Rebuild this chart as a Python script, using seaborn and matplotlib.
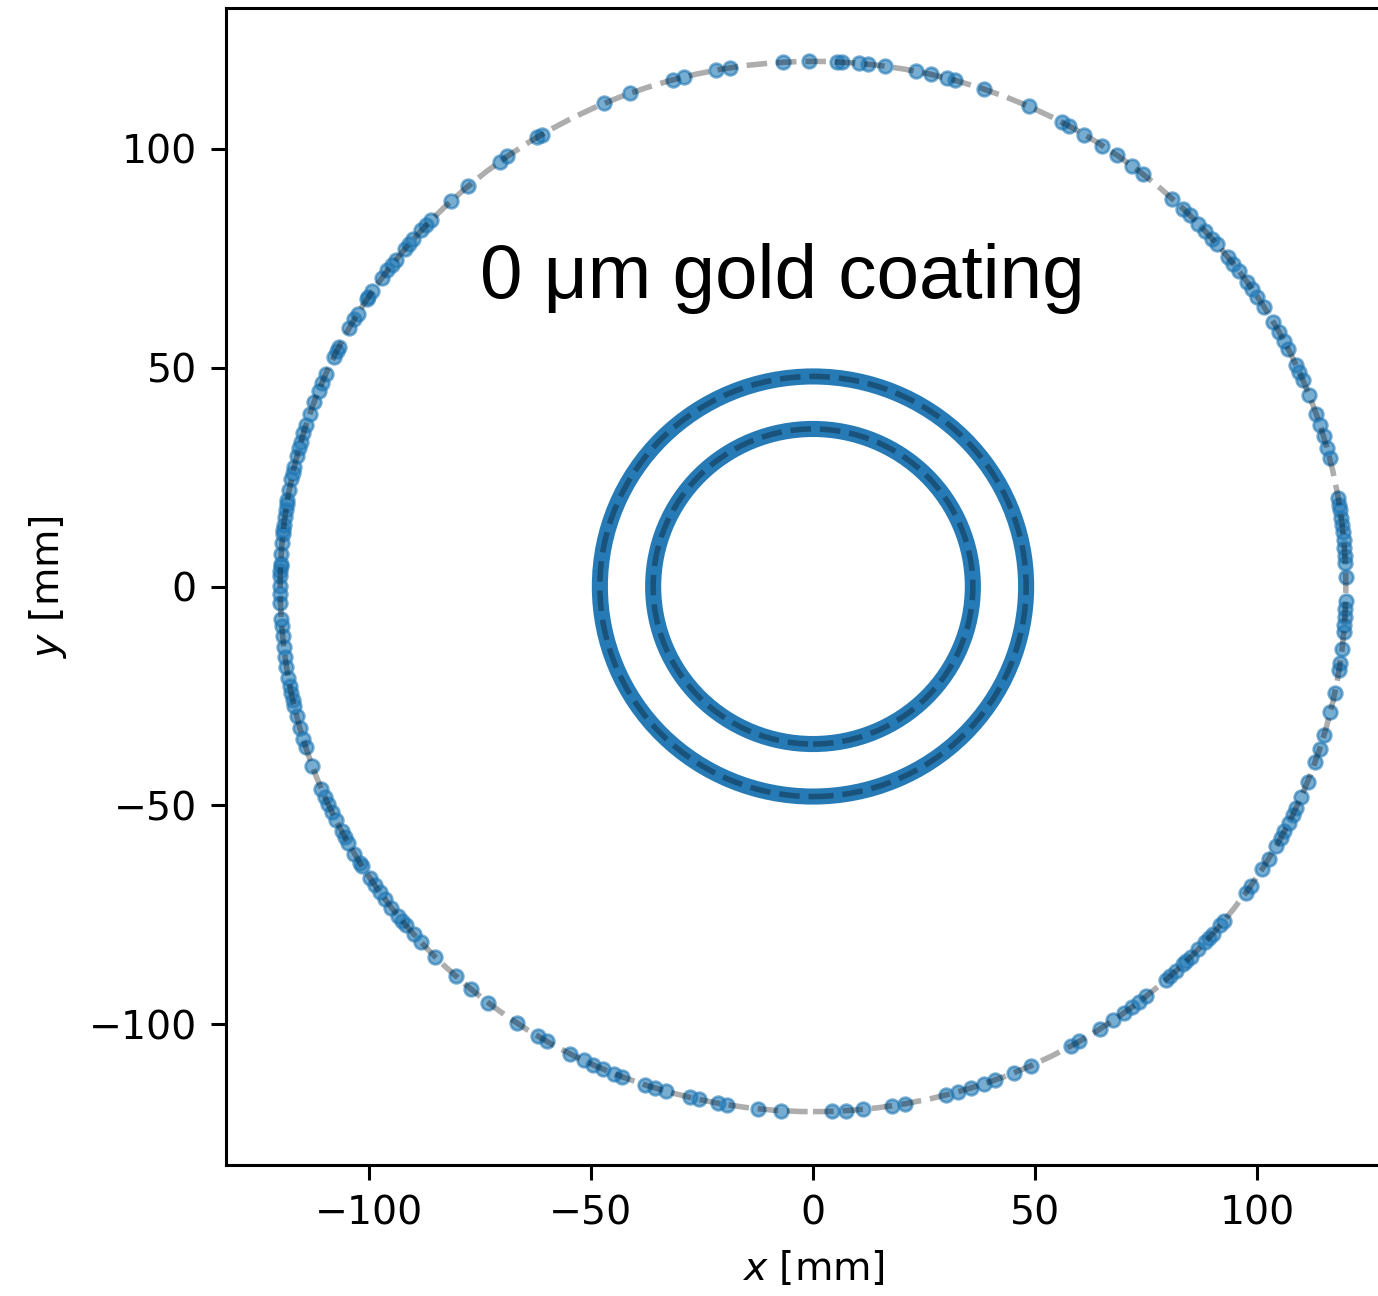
import numpy as np
import pandas as pd
import matplotlib
matplotlib.use("Agg")
import matplotlib.pyplot as plt
from matplotlib.patches import Circle
import seaborn as sns

# ---- data ----
# angular positions (degrees) of hits on the outer ring
outer_angles_deg = [
    # upper-left quadrant
    90.4, 93.2, 99.0, 100.5, 104.0, 105.2, 110.1, 113.1, 120.6, 121.2, 125.0, 126.0,
    130.3, 132.8, 135.8, 136.5, 137.3, 138.6, 139.3, 140.0, 141.5, 142.2, 143.0, 144.0,
    145.8, 146.6, 146.8, 148.7, 149.4, 150.5, 152.9, 153.3, 154.1, 156.1, 157.2, 158.1,
    159.4, 160.8, 162.1, 163.0, 164.0, 164.7, 165.6, 166.9, 167.5, 168.2, 169.4, 170.5,
    171.0, 171.6, 172.4, 173.3, 173.8, 174.3, 175.2, 176.5, 177.5, 177.8, 178.3, 178.9, 180.0,
    # lower-left quadrant
    -179.2, -178.2, -176.5, -175.7, -174.6, -173.4, -172.3, -171.2, -170.0, -169.1, -168.3,
    -167.5, -166.9, -165.7, -164.4, -163.1, -162.2, -160.0, -157.3, -156.4, -155.5, -154.6,
    -153.6, -152.2, -151.5, -150.8, -149.4, -148.2, -147.8, -146.3, -145.3, -144.4, -143.5,
    -142.3, -141.2, -140.5, -139.8, -138.5, -137.4, -135.2, -132.1, -129.9, -127.6, -123.8,
    -121.1, -120.0, -117.1, -115.5, -114.4, -113.2, -111.9, -111.0, -108.4, -107.2, -106.0,
    -103.4, -102.4, -100.3, -99.3, -95.9, -93.4,
    # lower-right quadrant
    -88.0, -86.5, -84.6, -81.5, -80.1, -75.5, -74.2, -72.8, -71.3, -70.0, -67.8, -65.9,
    -61.0, -60.0, -57.4, -55.7, -54.3, -53.2, -52.3, -51.3, -48.5, -47.9, -47.0, -46.0,
    -45.5, -44.8, -43.7, -42.6, -42.0, -41.4, -40.2, -39.5, -35.7, -34.8, -32.6, -31.2,
    -29.6, -28.6, -27.8, -26.8, -25.8, -24.9, -23.6, -21.8, -19.5, -18.0, -16.4, -13.8,
    -11.7, -9.2, -8.4, -6.8, -5.0, -4.2, -3.3, -2.5, -1.6,
    # upper-right quadrant
    1.0, 2.6, 3.3, 4.2, 5.1, 6.0, 6.7, 7.5, 8.4, 8.9, 9.7, 14.2, 15.3, 16.6, 17.9, 19.2,
    21.4, 23.1, 24.1, 25.0, 26.9, 27.9, 29.0, 30.3, 32.1, 33.5, 34.5, 35.4, 36.9, 37.9,
    38.8, 40.7, 41.5, 42.6, 43.7, 45.0, 46.0, 47.6, 51.7, 53.2, 55.2, 57.1, 59.4, 61.3,
    62.1, 66.1, 71.3, 74.5, 75.4, 77.2, 78.8, 82.2, 84.1, 85.0, 86.9, 87.4,
]
outer_radius_mm = 120.0
inner_band_radii_mm = [48.0, 36.0]        # the two dense inner rings of hits
guide_radii_mm = [120.0, 48.0, 36.0]      # dashed reference circles
x_ticks = [-100, -50, 0, 50, 100]
y_ticks = [-100, -50, 0, 50, 100]
axis_limit = 132.2
annotation = "0 μm gold coating"
x_label = "$x$ [mm]"
y_label = "$y$ [mm]"

# ---- build table ----
theta = np.deg2rad(np.array(outer_angles_deg))
df = pd.DataFrame({
    "x": outer_radius_mm * np.cos(theta),
    "y": outer_radius_mm * np.sin(theta),
})

W, H, DPI = 1378, 1296, 200
fig = plt.figure(figsize=(W / DPI, H / DPI), dpi=DPI)
ax = fig.add_axes([226 / W, 1 - 1165 / H, (1400 - 226) / W, (1165 - 8) / H])

blue = "#1f77b4"

# inner dense rings (continuous bands of hits)
for r in inner_band_radii_mm:
    ax.add_patch(Circle((0, 0), r, fill=False, edgecolor=blue, linewidth=5.8,
                        alpha=0.97, zorder=2))

# outer hits
sns.scatterplot(data=df, x="x", y="y", ax=ax, s=24, color=blue, alpha=0.6,
                edgecolor=blue, linewidth=1.0, zorder=3, legend=False)

# dashed guide circles
for r in guide_radii_mm:
    ax.add_patch(Circle((0, 0), r, fill=False, edgecolor="black", linewidth=2.0,
                        linestyle="--", alpha=0.32, zorder=4))

ax.set_xlim(-axis_limit, axis_limit)
ax.set_ylim(-axis_limit, axis_limit)
ax.set_xticks(x_ticks)
ax.set_yticks(y_ticks)
ax.tick_params(labelsize=14.2, length=5.5, width=1.1, pad=5)
for sp in ax.spines.values():
    sp.set_linewidth(1.1)
ax.set_xlabel(x_label, fontsize=14.2, labelpad=6)
ax.set_ylabel(y_label, fontsize=14.2, labelpad=7)

ax.text(-7, 66, annotation, ha="center", va="baseline", fontsize=27.5,
        family=["Liberation Sans", "DejaVu Sans"], color="black", zorder=5)

fig.savefig("out.png", dpi=DPI)
